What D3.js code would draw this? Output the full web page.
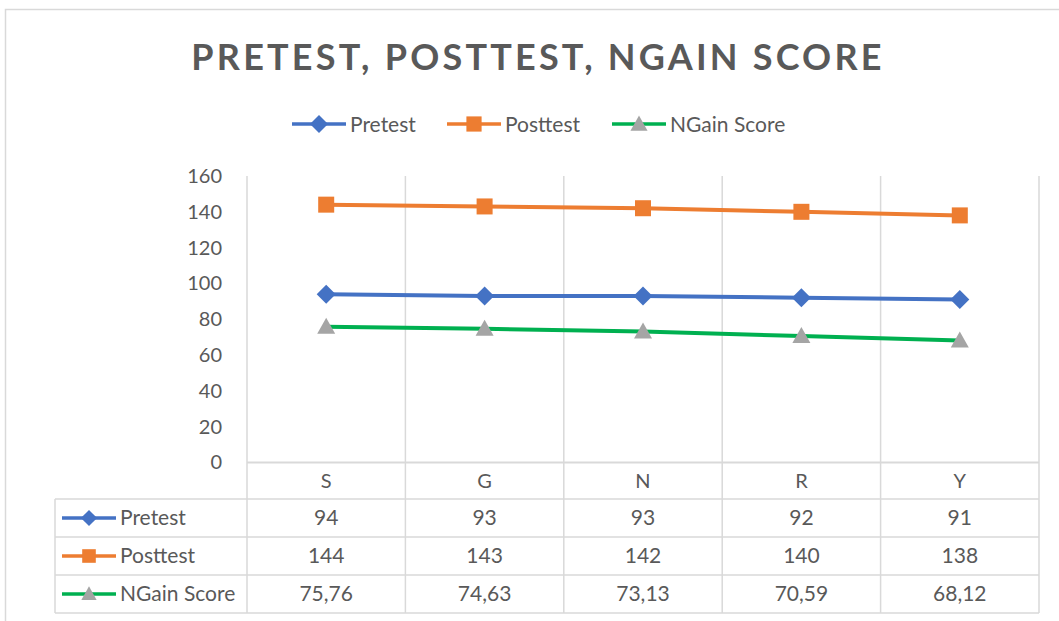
<!DOCTYPE html>
<html><head><meta charset="utf-8">
<script src="https://cdn.jsdelivr.net/npm/d3@7"></script>
<style>body{margin:0;background:#fff;}svg{display:block;font-family:Lato,"Open Sans",sans-serif;}</style>
</head><body>
<svg id="c" width="1059" height="621"></svg>
<script>
const categories = ["S","G","N","R","Y"];
const pretest = [94,93,93,92,91];
const posttest = [144,143,142,140,138];
const ngain = [75.76,74.63,73.13,70.59,68.12];
const ngainLabels = ["75,76","74,63","73,13","70,59","68,12"];
const yTicks = [0,20,40,60,80,100,120,140,160];
const seriesNames = ["Pretest","Posttest","NGain Score"];

const series = [
  {name:seriesNames[0], values:pretest, labels:pretest.map(String), color:"#4472C4", marker:"diamond"},
  {name:seriesNames[1], values:posttest, labels:posttest.map(String), color:"#ED7D31", marker:"square"},
  {name:seriesNames[2], values:ngain, labels:ngainLabels, color:"#00B050", marker:"triangle"}
];

const svg = d3.select("#c");
const grid = "#D9D9D9", txt = "#595959";

svg.append("rect").attr("x",5.5).attr("y",9.5).attr("width",1070).attr("height",640)
  .attr("fill","#fff").attr("stroke",grid).attr("stroke-width",1.5);

const x = d3.scaleBand().domain(categories).range([247,1039]);
const y = d3.scaleLinear().domain([0,160]).range([462.5,176]);

// title
svg.append("text").attr("x",538).attr("y",70).attr("text-anchor","middle")
  .attr("font-size",36).attr("font-weight","bold").attr("letter-spacing",3.2)
  .attr("fill",txt).text("PRETEST, POSTTEST, NGAIN SCORE");

function marker(g, type, color){
  if(type==="diamond"){
    g.append("path").attr("d","M0,-9.5L9.5,0L0,9.5L-9.5,0Z").attr("fill",color);
  } else if(type==="square"){
    g.append("rect").attr("x",-8).attr("y",-8).attr("width",16).attr("height",16).attr("fill",color);
  } else {
    g.append("path").attr("d","M0,-9L9,7L-9,7Z").attr("fill","#A5A5A5");
  }
}

// legend
const legX = [292,447,612];
series.forEach((s,i)=>{
  const g = svg.append("g");
  g.append("line").attr("x1",legX[i]).attr("x2",legX[i]+54).attr("y1",124).attr("y2",124)
    .attr("stroke",s.color).attr("stroke-width",3.5);
  marker(g.append("g").attr("transform",`translate(${legX[i]+27},124) scale(0.95)`), s.marker, s.color);
  g.append("text").attr("x",legX[i]+58).attr("y",131.5).attr("font-size",21).attr("fill",txt).text(s.name);
});

// y axis
const yAxis = svg.append("g").attr("transform","translate(222,0)")
  .call(d3.axisLeft(y).tickValues(yTicks).tickSize(0).tickPadding(0));
yAxis.select(".domain").remove();
yAxis.selectAll("text").attr("font-size",20).attr("fill",txt).attr("font-family","Lato,sans-serif");

// vertical gridlines (extend through table)
const bounds = categories.map(c=>x(c)).concat([x.range()[1]]);
svg.selectAll(".vg").data(bounds).enter().append("line")
  .attr("x1",d=>d).attr("x2",d=>d).attr("y1",176).attr("y2",613)
  .attr("stroke",grid).attr("stroke-width",1.5);

// table rows
const rowY = [462.5,499,537,575,613];
svg.append("line").attr("x1",247).attr("x2",1039).attr("y1",rowY[0]).attr("y2",rowY[0]).attr("stroke",grid).attr("stroke-width",2);
rowY.slice(1).forEach(yy=>svg.append("line").attr("x1",55).attr("x2",1039).attr("y1",yy).attr("y2",yy).attr("stroke",grid).attr("stroke-width",1.5));
svg.append("line").attr("x1",55).attr("x2",55).attr("y1",499).attr("y2",613).attr("stroke",grid).attr("stroke-width",1.5);

// categories
svg.selectAll(".cat").data(categories).enter().append("text")
  .attr("x",d=>x(d)+x.bandwidth()/2).attr("y",488).attr("text-anchor","middle")
  .attr("font-size",20).attr("fill",txt).text(d=>d);

series.forEach((s,i)=>{
  const cy = (rowY[i+1]+rowY[i+2])/2;
  const g = svg.append("g");
  g.append("line").attr("x1",62).attr("x2",116).attr("y1",cy).attr("y2",cy).attr("stroke",s.color).attr("stroke-width",3.5);
  marker(g.append("g").attr("transform",`translate(89,${cy}) scale(0.85)`), s.marker, s.color);
  g.append("text").attr("x",120).attr("y",cy+7).attr("font-size",21).attr("fill",txt).text(s.name);
  categories.forEach((c,j)=>{
    svg.append("text").attr("x",x(c)+x.bandwidth()/2).attr("y",cy+7).attr("text-anchor","middle")
      .attr("font-size",21).attr("fill",txt).text(s.labels[j]);
  });
});

// lines
const line = d3.line().x((d,i)=>x(categories[i])+x.bandwidth()/2).y(d=>y(d));
series.forEach(s=>{
  svg.append("path").datum(s.values).attr("d",line).attr("fill","none")
    .attr("stroke",s.color).attr("stroke-width",4);
});
series.forEach(s=>{
  s.values.forEach((v,i)=>{
    marker(svg.append("g").attr("transform",`translate(${x(categories[i])+x.bandwidth()/2},${y(v)})`), s.marker, s.color);
  });
});
</script>
</body></html>
